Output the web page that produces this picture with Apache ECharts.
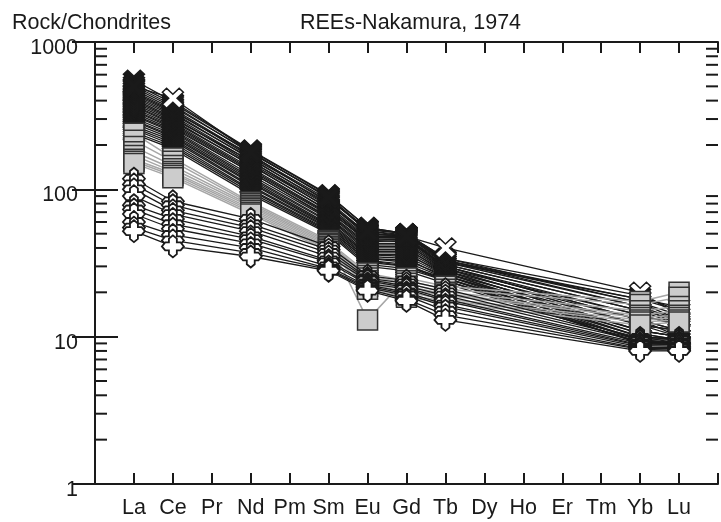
<!DOCTYPE html>
<html><head><meta charset="utf-8">
<script src="https://cdn.jsdelivr.net/npm/echarts@6/dist/echarts.min.js"></script>
<style>html,body{margin:0;padding:0;background:#fff}#c{width:721px;height:522px}</style>
</head><body><div id="c"></div>
<script>
// ---- data ----
const elements = ['La','Ce','Pr','Nd','Pm','Sm','Eu','Gd','Tb','Dy','Ho','Er','Tm','Yb','Lu'];
const measured = ['La','Ce','Nd','Sm','Eu','Gd','Tb','Yb','Lu'];
const yTicks = [1, 10, 100, 1000];
const minorTicks = [2,3,4,5,6,7,8,9,20,30,40,50,60,70,80,90,200,300,400,500,600,700,800,900];
const titleLeft = 'Rock/Chondrites';
const titleRight = 'REEs-Nakamura, 1974';

// black lines, X markers  [La, Ce, Nd, Sm, Eu, Gd, Tb, Yb, Lu]
const groupX = [
  [550, 395, 185, 92, 55, 50, 34, 19, 15],
  [520, 385, 183, 91, 55, 50, 33, 18, 16],
  [505, 372, 176, 89, 53, 50, 34, 17, 14],
  [490, 362, 180, 87, 52, 49, 33, 17, 13],
  [475, 352, 170, 85, 54, 50, 32, 18, 15],
  [460, 344, 166, 83, 50, 48, 33, 16, 13],
  [450, 338, 172, 81, 49, 49, 31, 15, 12],
  [440, 332, 160, 80, 48, 48, 32, 16, 12],
  [430, 324, 163, 78, 51, 47, 30, 14, 12],
  [420, 316, 155, 77, 47, 47, 31, 15, 13],
  [410, 308, 150, 75, 46, 46, 30, 13, 11],
  [400, 302, 156, 74, 45, 46, 29, 14, 12],
  [390, 296, 145, 72, 44, 45, 30, 13, 11],
  [380, 289, 147, 71, 45, 44, 29, 12, 11],
  [370, 283, 140, 69, 43, 43, 28, 13, 10],
  [365, 277, 137, 68, 42, 42, 29, 12, 11],
  [355, 271, 134, 67, 41, 41, 28, 11, 10],
  [345, 266, 130, 65, 40, 40, 27, 12, 10],
  [340, 260, 131, 64, 39, 39, 28, 11, 10],
  [330, 254, 125, 63, 38, 38, 27, 10.5, 9.5],
  [320, 249, 121, 61, 37, 37, 26, 11, 10],
  [315, 244, 118, 60, 36, 36, 27, 10, 9.5],
  [305, 237, 115, 58, 36, 35, 26, 10.5, 9.5],
  [295, 231, 112, 57, 35, 34, 25, 10, 9],
  [290, 226, 110, 56, 34, 33, 26, 9.5, 9],
  [280, 220, 106, 55, 34, 32, 25, 10, 9.5],
  [270, 214, 104, 54, 33, 31, 24, 9.5, 9],
  [262, 207, 100, 53, 33, 30, 25, 9, 8.8],
  [255, 200, 98, 52, 32, 30, 24, 9.5, 9],
  [245, 194, 95, 51, 31, 29, 24, 9, 8.8],
  [238, 188, 92, 50, 30, 28, 23, 9.2, 9],
  [500, 415, 178, 88, 52, 48, 40, 20, 14]
];
// points of the last X series drawn with open (white) markers
const openXSeries = 31;
const openXAt = ['Ce', 'Tb', 'Yb'];

// grey lines, grey squares
const groupSquare = [
  [240, 163, 82, 45, 13, 25, 22, 17.3, 20],
  [215, 155, 80, 44, 27, 24, 21, 16.5, 18.5],
  [195, 145, 78, 43, 26, 23, 20, 15, 16],
  [180, 138, 76, 42, 25, 22, 19.5, 14, 15],
  [170, 132, 74, 41, 24, 21, 19, 13.5, 14],
  [160, 128, 72, 40, 23, 20, 18, 13, 13.5],
  [155, 124, 70, 39, 22, 19, 17.5, 12.6, 13],
  [150, 120, 68, 38, 21, 18.5, 17, 12, 12.6]
];
// black lines, white plus markers
const groupPlus = [
  [118, 83, 63, 41, 26, 24, 21, 9.8, 9.8],
  [108, 78, 58, 39, 25, 23, 20, 9.5, 9.5],
  [100, 72, 55, 37, 24.5, 22, 19, 9.3, 9.2],
  [90, 68, 52, 35, 24, 21.5, 18, 9.0, 9.0],
  [78, 63, 48, 33, 23, 21, 17.5, 8.8, 8.8],
  [73, 58, 46, 32, 22.5, 20, 16.5, 8.7, 8.6],
  [68, 54, 43, 30, 22, 19.5, 16, 8.5, 8.4],
  [60, 49, 40, 29, 21.5, 19, 15, 8.3, 8.3],
  [55, 45, 37, 28.5, 21, 18, 14, 8.2, 8.1],
  [52, 41, 35, 28, 20.5, 17.5, 13, 8.0, 8.0]
];

// ---- chart ----
const INK = '#1a1a1a';
const FONT = 'Liberation Sans';
const FS = 21.5;
const X_PATH = 'path://M0,2L2,0L5,3L8,0L10,2L7,5L10,8L8,10L5,7L2,10L0,8L3,5Z';
const PLUS_PATH = 'path://M3.2,3.2L3.2,1.5L5,0L6.8,1.5L6.8,3.2L8.5,3.2L10,5L8.5,6.8L6.8,6.8L6.8,8.5L5,10L3.2,8.5L3.2,6.8L1.5,6.8L0,5L1.5,3.2Z';

function toData(vals, openAt) {
  return measured.map((el, i) => {
    const item = {value: [elements.indexOf(el) + 1, vals[i]]};
    if (openAt && openAt.indexOf(el) >= 0) item.itemStyle = {color: '#fff'};
    return item;
  });
}

const series = [];
groupX.forEach((v, i) => series.push({
  type: 'line', data: toData(v, i === openXSeries ? openXAt : null),
  symbol: X_PATH, symbolSize: [21, 20],
  lineStyle: {color: INK, width: 1.3},
  itemStyle: {color: INK, borderColor: INK, borderWidth: 1.5},
  showAllSymbol: true, silent: true, z: 2
}));
groupSquare.forEach(v => series.push({
  type: 'line', data: toData(v), symbol: 'rect', symbolSize: 20,
  lineStyle: {color: '#a6a6a6', width: 1.5},
  itemStyle: {color: '#cccccc', borderColor: '#333', borderWidth: 1.5},
  showAllSymbol: true, silent: true, z: 4
}));
groupPlus.forEach(v => series.push({
  type: 'line', data: toData(v), symbol: PLUS_PATH, symbolSize: 22,
  lineStyle: {color: INK, width: 1.3},
  itemStyle: {color: '#fff', borderColor: INK, borderWidth: 1.8},
  showAllSymbol: true, silent: true, z: 5
}));
series.push({
  type: 'custom', silent: true, z: 10, clip: false,
  encode: {x: 0, y: 1},
  data: minorTicks.map(v => [0, v]),
  renderItem(params, api) {
    const cs = params.coordSys;
    const y = api.coord([0, api.value(1)])[1];
    return {type: 'group', children: [
      {type: 'line', shape: {x1: cs.x, y1: y, x2: cs.x + 12, y2: y}, style: {stroke: INK, lineWidth: 2}},
      {type: 'line', shape: {x1: cs.x + cs.width - 12, y1: y, x2: cs.x + cs.width, y2: y}, style: {stroke: INK, lineWidth: 2}}
    ]};
  }
});

const axisLineStyle = {show: true, lineStyle: {color: INK, width: 2}};
const xBase = {
  type: 'value', min: 0, max: elements.length + 1, interval: 1,
  axisLine: axisLineStyle, splitLine: {show: false},
  axisTick: {show: true, inside: true, length: 11, lineStyle: {color: INK, width: 2}}
};
const yBase = {
  type: 'log', logBase: 10, min: yTicks[0], max: yTicks[yTicks.length - 1],
  axisLine: axisLineStyle, splitLine: {show: false},
  axisTick: {show: true, inside: true, length: 23, lineStyle: {color: INK, width: 2}}
};

const chart = echarts.init(document.getElementById('c'), null, {renderer: 'canvas'});
chart.setOption({
  animation: false,
  backgroundColor: '#fff',
  grid: {left: 95, top: 42, width: 634, height: 442, containLabel: false},
  xAxis: [
    Object.assign({}, xBase, {position: 'bottom',
      axisLabel: {color: INK, fontFamily: FONT, fontSize: FS, margin: 13,
        formatter: v => (v >= 1 && v <= elements.length) ? elements[Math.round(v) - 1] : ''}}),
    Object.assign({}, xBase, {position: 'top', axisLabel: {show: false}})
  ],
  yAxis: [
    Object.assign({}, yBase, {position: 'left',
      axisLabel: {color: INK, fontFamily: FONT, fontSize: FS, margin: 17,
        verticalAlign: 'top', lineHeight: 12,
        formatter: v => {
          const r = Math.round(v);
          return yTicks.indexOf(r) >= 0 ? String(r) : '';
        }}}),
    Object.assign({}, yBase, {position: 'right', axisLabel: {show: false}})
  ],
  graphic: [
    {type: 'text', left: 12, top: 12, style: {text: titleLeft, font: FS + 'px "Liberation Sans"', fill: INK}},
    {type: 'text', left: 300, top: 12, style: {text: titleRight, font: FS + 'px "Liberation Sans"', fill: INK}}
  ],
  series: series
});
</script>
</body></html>
